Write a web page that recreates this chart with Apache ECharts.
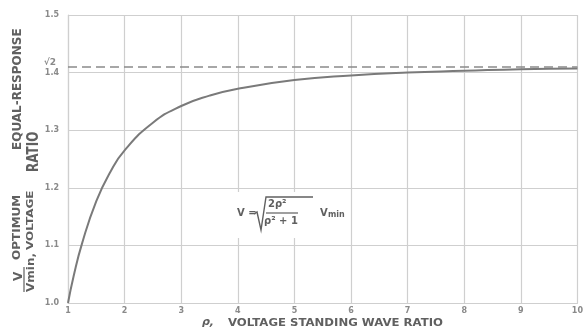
<!DOCTYPE html>
<html><head><meta charset="utf-8">
<script src="https://cdn.jsdelivr.net/npm/echarts@6/dist/echarts.min.js"></script>
<style>html,body{margin:0;padding:0;background:#fff}#c{width:586px;height:336px}</style>
</head><body><div id="c"></div>
<script>
// Rho (VSWR) vs V/Vmin
const rho = [1, 1.1, 1.25, 1.5, 1.75, 2, 2.5, 3, 3.5, 4, 5, 6, 7, 8, 9, 10];
const ratio = [1.0, 1.047, 1.104, 1.177, 1.228, 1.265, 1.313, 1.342, 1.360, 1.372, 1.387, 1.395, 1.400, 1.403, 1.406, 1.407];
const asymptote = 1.41421;
const xTicks = ['1','2','3','4','5','6','7','8','9','10'];
const yTicks = ['1.0','1.1','1.2','1.3','1.4','1.5'];

const chart = echarts.init(document.getElementById('c'), null, {renderer: 'canvas'});
const gridCol = '#cfcfcf';
const labCol = '#8a8a8a';
const txtCol = '#606060';
const font = '"DejaVu Sans", "Liberation Sans", sans-serif';
const ctx = document.createElement('canvas').getContext('2d');
function measure(text, f) { ctx.font = f; return ctx.measureText(text).width; }
// rotated (reading upward): starts at yBottom, ends at yTop, glyph top at x
function vText(text, size, x, yBottom, yTop) {
  const f = 'bold ' + size + 'px ' + font;
  const s = (yBottom - yTop) / measure(text, f);
  return {type: 'text', x: x, y: yBottom, rotation: Math.PI / 2, scaleY: s,
          style: {text: text, fill: txtCol, font: f}};
}
function hText(text, size, x0, x1, yTop) {
  const f = 'bold ' + size + 'px ' + font;
  return {type: 'text', x: x0, y: yTop, scaleX: (x1 - x0) / measure(text, f),
          style: {text: text, fill: txtCol, font: f}};
}

chart.setOption({
  animation: false,
  backgroundColor: '#fff',
  grid: {left: 68, right: 5, top: 15, bottom: 33},
  xAxis: {
    type: 'value', min: 1, max: 10, interval: 1,
    axisLine: {show: true, lineStyle: {color: gridCol, width: 1.2}},
    axisTick: {show: false},
    splitLine: {show: true, lineStyle: {color: gridCol, width: 1.2}},
    axisLabel: {color: labCol, fontSize: 8, fontFamily: font, fontWeight: 'bold', margin: 4,
      formatter: v => xTicks[Math.round(v) - 1]}
  },
  yAxis: {
    type: 'value', min: 1.0, max: 1.5, interval: 0.1,
    axisLine: {show: true, lineStyle: {color: gridCol, width: 1.2}},
    axisTick: {show: false},
    splitLine: {show: true, lineStyle: {color: gridCol, width: 1.2}},
    axisLabel: {color: labCol, fontSize: 8, fontFamily: font, fontWeight: 'bold', margin: 9,
      formatter: v => yTicks[Math.round((v - 1) * 10)]}
  },
  series: [{
    type: 'line', smooth: true, showSymbol: false,
    data: rho.map((r, i) => [r, ratio[i]]),
    lineStyle: {color: '#7a7a7a', width: 2},
    markLine: {
      silent: true, symbol: 'none',
      lineStyle: {color: '#8a8a8a', type: [9, 5], width: 1.6},
      label: {show: true, position: 'start', formatter: '√2', color: labCol, fontSize: 9, fontFamily: font, fontWeight: 'bold', distance: 12, offset: [0, -4]},
      data: [{yAxis: asymptote}]
    }
  }],
  graphic: [
    {type: 'rect', shape: {x: 232, y: 192, width: 118, height: 46}, style: {fill: '#fff'}, z: 50},
    {type: 'text', left: 237, top: 208, z: 60, style: {text: 'V =', fill: txtCol, font: 'bold 10px ' + font}},
    {type: 'polyline', z: 60, shape: {points: [[254, 214], [257, 212], [261, 230], [266, 197], [313, 197]]}, style: {stroke: txtCol, lineWidth: 1.4, fill: null}},
    {type: 'text', left: 268, top: 199, z: 60, style: {text: '2ρ²', fill: txtCol, font: 'bold 10px ' + font}},
    {type: 'line', z: 60, shape: {x1: 266, y1: 213, x2: 298, y2: 213}, style: {stroke: txtCol, lineWidth: 1.2}},
    {type: 'text', left: 264, top: 216, z: 60, style: {text: 'ρ² + 1', fill: txtCol, font: 'bold 10px ' + font}},
    {type: 'text', left: 320, top: 208, z: 60, style: {text: 'V', fill: txtCol, font: 'bold 10px ' + font}},
    {type: 'text', left: 328, top: 211, z: 60, style: {text: 'min', fill: txtCol, font: 'bold 8px ' + font}},
    {type: 'text', x: 202, y: 317, style: {text: 'ρ,', fill: txtCol, font: 'italic bold 11px ' + font}},
    hText('VOLTAGE STANDING WAVE RATIO', 11, 228, 443, 318),
    vText('V', 12, 12, 281, 271),
    {type: 'line', shape: {x1: 24, y1: 267, x2: 24, y2: 292}, style: {stroke: txtCol, lineWidth: 1.2}},
    vText('OPTIMUM', 12, 12, 260, 205),
    vText('EQUAL-RESPONSE', 12, 12, 150, 30),
    vText('Vmin,', 12, 26, 292, 257),
    vText('VOLTAGE', 12, 26, 250, 207),
    vText('RATIO', 12, 26, 172, 120)
  ]
});
</script></body></html>
